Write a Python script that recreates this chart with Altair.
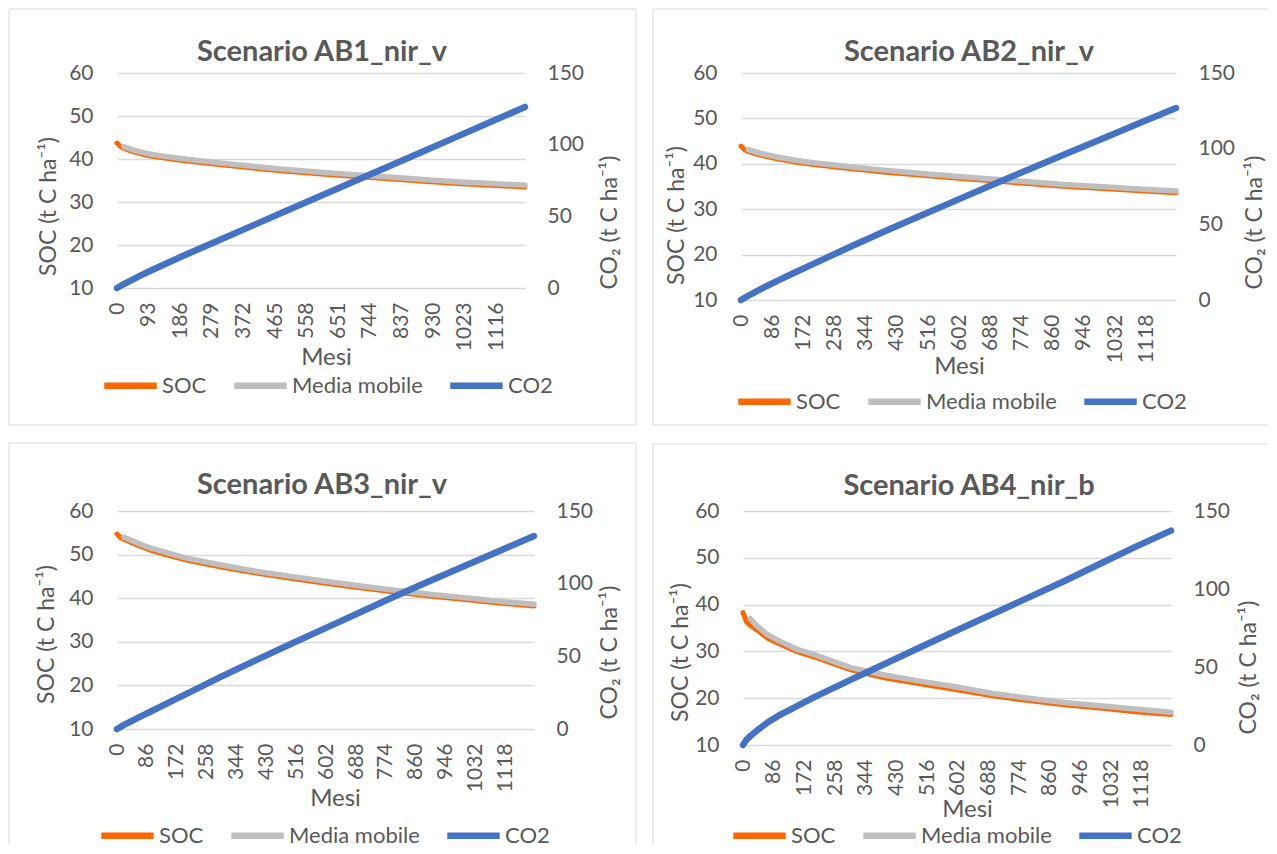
import altair as alt
import pandas as pd

# ---------------- data ----------------
MONTHS = [0, 10, 20, 40, 70, 100, 150, 200, 300, 400, 500, 600, 700, 800, 900, 1000, 1100, 1200]
SERIES = ["SOC", "Media mobile", "CO2"]
COLORS = ["#FF6600", "#BFBFBF", "#4472C4"]

TITLES = ["Scenario AB1_nir_v", "Scenario AB2_nir_v", "Scenario AB3_nir_v", "Scenario AB4_nir_b"]

SOC_AB1 = [43.7, 42.9, 42.5, 41.9, 41.2, 40.7, 40.1, 39.6, 38.7, 37.9, 37.15, 36.5, 35.95, 35.4, 34.85, 34.3, 33.9, 33.5]
MM_AB1 = [None, None, 42.85, 42.3, 41.6, 41.1, 40.5, 40.0, 39.1, 38.3, 37.55, 36.9, 36.35, 35.8, 35.25, 34.7, 34.3, 33.9]
CO2_AB1 = [0, 1.4, 2.7, 5.2, 8.8, 12.2, 17.6, 23.0, 33.3, 43.7, 54.0, 64.3, 74.7, 85.0, 95.3, 105.6, 116.0, 126.3]

SOC_AB2 = [43.9, 43.1, 42.7, 42.2, 41.6, 41.1, 40.4, 39.85, 38.95, 38.15, 37.45, 36.8, 36.2, 35.6, 35.0, 34.55, 34.05, 33.6]
MM_AB2 = [None, None, 43.1, 42.6, 42.0, 41.5, 40.8, 40.25, 39.35, 38.55, 37.85, 37.2, 36.6, 36.0, 35.4, 34.95, 34.45, 34.0]
CO2_AB2 = [0, 1.4, 2.8, 5.4, 9.1, 12.6, 18.3, 23.9, 35.0, 45.8, 56.2, 66.5, 76.8, 86.9, 97.0, 106.9, 116.9, 126.8]

SOC_AB3 = [54.7, 53.9, 53.5, 52.8, 51.8, 50.9, 49.8, 48.75, 47.15, 45.75, 44.55, 43.45, 42.4, 41.4, 40.5, 39.7, 38.9, 38.2]
MM_AB3 = [None, None, 54.0, 53.3, 52.3, 51.4, 50.3, 49.2, 47.6, 46.2, 45.0, 43.9, 42.8, 41.8, 40.9, 40.1, 39.3, 38.6]
CO2_AB3 = [0, 1.4, 2.8, 5.3, 8.9, 12.4, 18.3, 24.2, 36.0, 47.4, 58.5, 69.4, 80.3, 91.3, 101.8, 112.2, 122.5, 132.8]

SOC_AB4 = [38.3, 36.3, 35.6, 34.5, 32.8, 31.7, 30.0, 28.8, 26.1, 24.3, 23.0, 21.8, 20.5, 19.5, 18.6, 17.9, 17.1, 16.5]
MM_AB4 = [None, None, 37.0, 35.4, 33.5, 32.3, 30.5, 29.3, 26.6, 24.9, 23.6, 22.4, 21.0, 20.0, 19.1, 18.4, 17.7, 17.0]
CO2_AB4 = [0, 3.5, 5.6, 9.4, 14.6, 18.8, 24.8, 30.7, 41.6, 52.2, 63.0, 73.6, 84.0, 94.5, 105.0, 116.0, 127.0, 137.4]

X_TICKS_93 = [0, 93, 186, 279, 372, 465, 558, 651, 744, 837, 930, 1023, 1116]
X_TICKS_86 = [0, 86, 172, 258, 344, 430, 516, 602, 688, 774, 860, 946, 1032, 1118]
SOC_TICKS = [10, 20, 30, 40, 50, 60]
CO2_TICKS = [0, 50, 100, 150]

TXT = "#595959"
GRID = "#D9D9D9"
FRAME = "#D9D9D9"
ONE = pd.DataFrame({"k": [0]})


def long_df(vals, name):
    return pd.DataFrame({"Mese": MONTHS, "val": vals, "serie": name}).dropna()


def panel(title, soc, mm, co2, xticks, cfg):
    w, h = cfg["w"], cfg["h"]
    color = alt.Color(
        "serie:N",
        scale=alt.Scale(domain=SERIES, range=COLORS),
        legend=alt.Legend(
            title=None, orient="none", direction="horizontal",
            legendX=cfg["lx"], legendY=cfg["ly"],
            symbolType="stroke", symbolStrokeWidth=6.5, symbolSize=2750,
            labelFontSize=22, labelColor=TXT, labelOffset=2, columnPadding=14,
        ),
    )
    x = alt.X(
        "Mese:Q",
        scale=alt.Scale(domain=[0, 1200], nice=False, zero=False),
        axis=alt.Axis(
            values=xticks, format="d", labelAngle=270, labelFontSize=21, labelColor=TXT,
            labelPadding=14, ticks=False, domain=False, grid=False,
            labelFlush=False, labelOverlap=False,
            title="Mesi", titleFontSize=24, titleFontWeight="normal", titleColor=TXT,
            titleX=cfg["xtx"], titleY=cfg["xty"], titleBaseline="middle", titleAlign="center",
        ),
    )
    y_left = alt.Y(
        "val:Q",
        scale=alt.Scale(domain=[10, 60], nice=False, zero=False),
        axis=alt.Axis(
            values=SOC_TICKS, format="d", grid=True, gridColor=GRID, gridWidth=1.5,
            domain=False, ticks=False, labelPadding=24, labelFontSize=21, labelColor=TXT,
            title="SOC (t C ha⁻¹)", titleAngle=270, titleFontSize=23,
            titleFontWeight="normal", titleColor=TXT,
            titleX=cfg["ltx"], titleY=cfg["lty"], titleBaseline="middle", titleAlign="center",
        ),
    )
    y_right = alt.Y(
        "val:Q",
        scale=alt.Scale(domain=[0, 150], nice=False),
        axis=alt.Axis(
            orient="right", values=CO2_TICKS, format="d", grid=False,
            domain=False, ticks=False, labelPadding=22, labelFontSize=21, labelColor=TXT,
            title="CO₂ (t C ha⁻¹)", titleAngle=270, titleFontSize=23,
            titleFontWeight="normal", titleColor=TXT,
            titleX=cfg["rtx"], titleY=cfg["rty"], titleBaseline="middle", titleAlign="center",
        ),
    )

    soc_l = alt.Chart(long_df(soc, "SOC")).mark_line(strokeWidth=5, strokeCap="round").encode(
        x=x, y=y_left, color=color)
    mm_l = alt.Chart(long_df(mm, "Media mobile")).mark_line(strokeWidth=5.5, strokeCap="round").encode(
        x=x, y=y_left, color=color)
    co2_l = alt.Chart(long_df(co2, "CO2")).mark_line(strokeWidth=6.5, strokeCap="round").encode(
        x=x, y=y_right, color=color)

    left = alt.layer(soc_l, mm_l)
    lines = alt.layer(left, co2_l).resolve_scale(y="independent")

    # chart-area border
    L, T, R, B = cfg["frame"]
    rules = []
    sides = cfg["sides"]
    if "top" in sides:
        rules.append(alt.Chart(ONE).mark_rule(color=FRAME, strokeWidth=1).encode(
            x=alt.value(L), x2=alt.value(R), y=alt.value(T)))
    if "bottom" in sides:
        rules.append(alt.Chart(ONE).mark_rule(color=FRAME, strokeWidth=1).encode(
            x=alt.value(L), x2=alt.value(R), y=alt.value(B)))
    if "left" in sides:
        rules.append(alt.Chart(ONE).mark_rule(color=FRAME, strokeWidth=1).encode(
            x=alt.value(L), y=alt.value(T), y2=alt.value(B)))
    if "right" in sides:
        rules.append(alt.Chart(ONE).mark_rule(color=FRAME, strokeWidth=1).encode(
            x=alt.value(R), y=alt.value(T), y2=alt.value(B)))

    ttl = alt.Chart(ONE).mark_text(
        text=title, fontSize=29, fontWeight="bold", color=TXT,
        align="center", baseline="alphabetic",
    ).encode(x=alt.value(cfg["tx"]), y=alt.value(cfg["ty"]))

    return alt.layer(lines, *rules, ttl).properties(width=w, height=h)


CFG1 = dict(w=408, h=215, frame=(-108, -64, 519, 352), sides=("top", "bottom", "left", "right"),
            tx=205, ty=-12, ltx=-69, lty=133, rtx=84, rty=149, xtx=209, xty=69, lx=-16, ly=283)
CFG2 = dict(w=435, h=227, frame=(-88, -64, 527, 352), sides=("top", "bottom", "left"),
            tx=228, ty=-12, ltx=-65, lty=142, rtx=78, rty=149, xtx=218, xty=66, lx=-6, ly=299)
CFG3 = dict(w=417, h=218, frame=(-108, -68, 519, 333), sides=("top", "left", "right"),
            tx=205, ty=-17, ltx=-71, lty=123, rtx=75, rty=141, xtx=218, xty=69, lx=-19, ly=295)
CFG4 = dict(w=428, h=234, frame=(-90, -67, 525, 333), sides=("top", "left"),
            tx=226, ty=-16, ltx=-63, lty=141, rtx=77, rty=156, xtx=224, xty=64, lx=-13, ly=295)

p1 = panel(TITLES[0], SOC_AB1, MM_AB1, CO2_AB1, X_TICKS_93, CFG1)
p2 = panel(TITLES[1], SOC_AB2, MM_AB2, CO2_AB2, X_TICKS_86, CFG2)
p3 = panel(TITLES[2], SOC_AB3, MM_AB3, CO2_AB3, X_TICKS_86, CFG3)
p4 = panel(TITLES[3], SOC_AB4, MM_AB4, CO2_AB4, X_TICKS_86, CFG4)

row1 = alt.hconcat(p1, p2, spacing=15).resolve_scale(color="independent", x="independent")
row2 = alt.hconcat(p3, p4, spacing=15).resolve_scale(color="independent", x="independent")

chart = (
    alt.vconcat(row1, row2, spacing=16)
    .resolve_scale(color="independent", x="independent")
    .properties(padding=0, background="white")
    .configure(font="Lato")
    .configure_view(stroke=None)
)

chart.save("out.html", embed_options={"renderer": "svg", "actions": False})
